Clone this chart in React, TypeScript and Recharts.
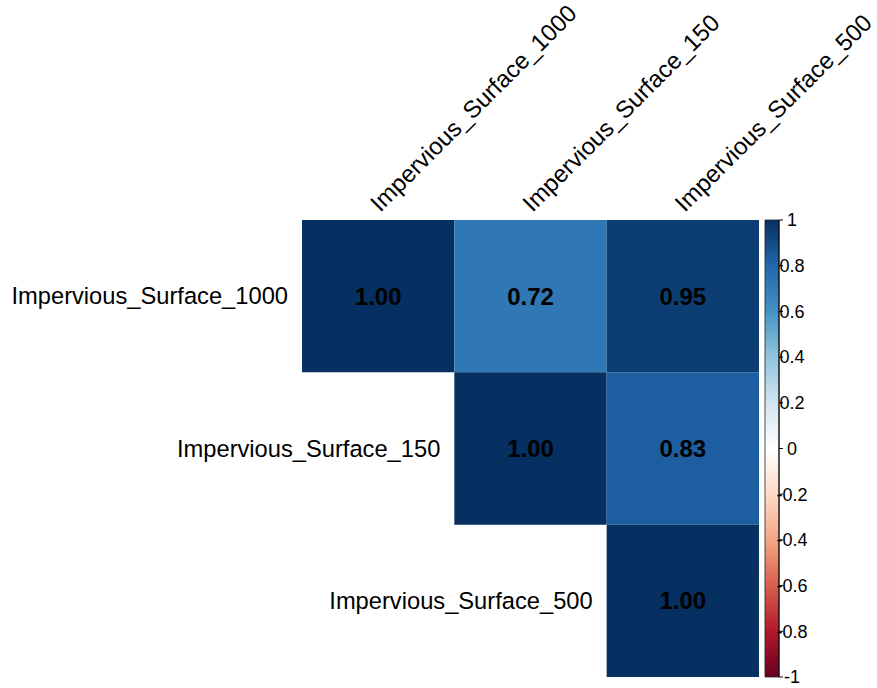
import React from "react";
import { ScatterChart, Scatter, XAxis, YAxis, ReferenceArea } from "recharts";

// Variables in the correlation matrix (row order = column order)
const variables = [
  "Impervious_Surface_1000",
  "Impervious_Surface_150",
  "Impervious_Surface_500",
];

// Upper triangle of the correlation matrix (null = not drawn)
const corrRow1000 = [1.0, 0.72, 0.95];
const corrRow150 = [null, 1.0, 0.83];
const corrRow500 = [null, null, 1.0];
const corrMatrix = [corrRow1000, corrRow150, corrRow500];

// Colour bar tick values
const legendTicks = [-1, -0.8, -0.6, -0.4, -0.2, 0, 0.2, 0.4, 0.6, 0.8, 1];

// RdBu diverging palette, from -1 to 1
const rdbuPalette = [
  "#67001F", "#B2182B", "#D6604D", "#F4A582", "#FDDBC7", "#FFFFFF",
  "#D1E5F0", "#92C5DE", "#4393C3", "#2166AC", "#053061",
];

const FONT = "'Liberation Sans', Arial, Helvetica, sans-serif";

function hexToRgb(h: string) {
  const n = parseInt(h.slice(1), 16);
  return [(n >> 16) & 255, (n >> 8) & 255, n & 255];
}

function corrColor(v: number) {
  const pos = ((v + 1) / 2) * (rdbuPalette.length - 1);
  const i = Math.min(Math.floor(pos), rdbuPalette.length - 2);
  const t = pos - i;
  const a = hexToRgb(rdbuPalette[i]);
  const b = hexToRgb(rdbuPalette[i + 1]);
  const c = a.map((av, k) => Math.round(av + (b[k] - av) * t));
  return `rgb(${c[0]},${c[1]},${c[2]})`;
}

type Cell = { row: number; col: number; value: number; x: number; y: number };
const cells: Cell[] = [];
corrMatrix.forEach((rowVals, r) =>
  rowVals.forEach((v, c) => {
    if (v !== null) cells.push({ row: r, col: c, value: v, x: c + 0.5, y: r + 0.5 });
  })
);

const rowLabelPoints = variables.map((name, i) => ({ name, x: i, y: i + 0.5 }));
const colLabelPoints = variables.map((name, i) => ({ name, x: i + 0.5, y: 0 }));
// points along the colour bar, so its axes carry data
const legendPoints = legendTicks.map((v) => ({ lx: 0.5, ly: v }));

const ValueText = (props: any) => (
  <text
    x={props.cx}
    y={props.cy}
    dy="0.35em"
    textAnchor="middle"
    fontFamily={FONT}
    fontWeight="bold"
    fontSize={24}
    fill="#000"
  >
    {props.payload.value.toFixed(2)}
  </text>
);

const RowLabel = (props: any) => (
  <text
    x={props.cx - 14}
    y={props.cy}
    dy="0.35em"
    textAnchor="end"
    fontFamily={FONT}
    fontSize={23.7}
    fill="#000"
  >
    {props.payload.name}
  </text>
);

const ColLabel = (props: any) => {
  const x = props.cx + 2;
  const y = props.cy - 7;
  return (
    <text
      x={x}
      y={y}
      transform={`rotate(-45, ${x}, ${y})`}
      textAnchor="start"
      fontFamily={FONT}
      fontSize={24}
      fill="#000"
    >
      {props.payload.name}
    </text>
  );
};

const LegendTick = (props: any) => (
  <text
    x={props.x + 9}
    y={props.y}
    dy="0.35em"
    textAnchor="middle"
    fontFamily={FONT}
    fontSize={18}
    fill="#000"
  >
    {String(props.payload.value)}
  </text>
);

const Nothing = () => null;

export default function App() {
  return (
    <div style={{ position: "absolute", left: 0, top: 0, background: "#fff" }}>
      <ScatterChart
        width={877}
        height={688}
        margin={{ top: 220, left: 302, right: 58, bottom: 11 }}
      >
        <defs>
          <linearGradient id="rdbuBar" x1="0" y1="1" x2="0" y2="0">
            {rdbuPalette.map((c, i) => (
              <stop key={i} offset={i / (rdbuPalette.length - 1)} stopColor={c} />
            ))}
          </linearGradient>
        </defs>
        <XAxis
          xAxisId="m"
          type="number"
          dataKey="x"
          domain={[0, 3]}
          padding={{ left: 0, right: 20 }}
          hide
        />
        <XAxis
          xAxisId="cb"
          type="number"
          dataKey="lx"
          domain={[-33.07, 1]}
          allowDataOverflow
          hide
        />
        <YAxis
          yAxisId="m"
          type="number"
          dataKey="y"
          domain={[0, 3]}
          reversed
          hide
        />
        <YAxis
          yAxisId="cb"
          type="number"
          dataKey="ly"
          orientation="right"
          domain={[-1, 1]}
          allowDataOverflow
          ticks={legendTicks}
          interval={0}
          width={40}
          tickSize={4}
          tickMargin={0}
          axisLine={{ stroke: "#000", strokeWidth: 1 }}
          tickLine={{ stroke: "#000", strokeWidth: 1 }}
          tick={<LegendTick />}
        />

        {cells.map((c) => (
          <ReferenceArea
            key={`${c.row}-${c.col}`}
            xAxisId="m"
            yAxisId="m"
            x1={c.col}
            x2={c.col + 1}
            y1={c.row}
            y2={c.row + 1}
            fill={corrColor(c.value)}
            fillOpacity={1}
            stroke="none"
          />
        ))}

        <ReferenceArea
          xAxisId="cb"
          yAxisId="cb"
          x1={0}
          x2={1}
          y1={-1}
          y2={1}
          fill="url(#rdbuBar)"
          fillOpacity={1}
          stroke="#222"
          strokeWidth={0.8}
        />

        <Scatter
          xAxisId="cb"
          yAxisId="cb"
          data={legendPoints}
          dataKey="ly"
          shape={<Nothing />}
          isAnimationActive={false}
        />
        <Scatter
          xAxisId="m"
          yAxisId="m"
          data={cells}
          shape={<ValueText />}
          isAnimationActive={false}
        />
        <Scatter
          xAxisId="m"
          yAxisId="m"
          data={rowLabelPoints}
          shape={<RowLabel />}
          isAnimationActive={false}
        />
        <Scatter
          xAxisId="m"
          yAxisId="m"
          data={colLabelPoints}
          shape={<ColLabel />}
          isAnimationActive={false}
        />
      </ScatterChart>
    </div>
  );
}
